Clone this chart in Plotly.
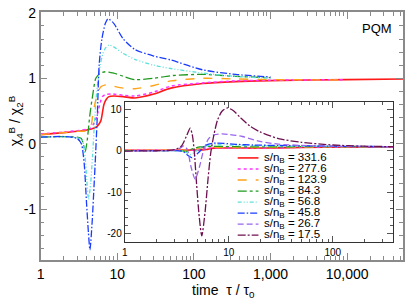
import plotly.graph_objects as go

# ---------------- data ----------------
sn_labels = ["331.6", "277.6", "123.9", "84.3", "56.8", "45.8", "26.7", "17.5"]

tau_red = [1, 2, 3, 4, 5, 5.5, 6.1, 6.7, 7.2, 7.8, 9, 12, 17, 30, 50, 130, 350, 1000, 10000, 54000]
chi_red = [0.14, 0.17, 0.19, 0.21, 0.24, 0.27, 0.35, 0.6, 0.68, 0.72, 0.73, 0.72, 0.70, 0.76, 0.85, 0.92, 0.95, 0.965, 0.98, 0.99]

tau_mag = [1, 2, 3, 4, 4.5, 5, 5.5, 6, 6.4, 7, 8.5, 12, 17, 30, 50, 130, 350, 1000, 9000]
chi_mag = [0.15, 0.18, 0.2, 0.22, 0.24, 0.32, 0.45, 0.63, 0.72, 0.75, 0.76, 0.74, 0.73, 0.79, 0.88, 0.93, 0.96, 0.97, 0.98]

tau_ora = [1, 2, 3, 4, 4.5, 4.8, 5.2, 5.6, 6.1, 7, 7.8, 9, 12, 17, 30, 50, 130, 350, 1000, 9000]
chi_ora = [0.14, 0.17, 0.19, 0.2, 0.25, 0.45, 0.65, 0.78, 0.87, 0.9, 0.9, 0.88, 0.85, 0.84, 0.89, 0.96, 1.0, 0.99, 0.98, 0.975]

tau_grn = [1, 2, 3, 3.4, 3.6, 3.82, 4.05, 4.4, 4.75, 5.25, 6, 7, 8, 9, 12, 17, 30, 50, 130, 350, 1000]
chi_grn = [0.10, 0.11, 0.1, 0.08, 0.0, -0.12, 0.05, 0.45, 0.72, 1.0, 1.08, 1.1, 1.09, 1.08, 1.03, 0.98, 1.0, 1.04, 1.06, 1.03, 1.01]

tau_cya = [1, 2, 3, 3.5, 3.8, 4.0, 4.22, 4.5, 4.75, 5.0, 5.4, 6, 6.5, 7, 7.8, 9, 12, 17, 30, 50, 130, 350, 1000]
chi_cya = [0.1, 0.11, 0.09, 0.05, -0.2, -0.55, -0.85, -0.6, -0.2, 0.25, 0.8, 1.2, 1.38, 1.46, 1.51, 1.48, 1.38, 1.29, 1.2, 1.15, 1.08, 1.03, 1.0]

tau_blu = [1, 2, 3, 3.4, 3.7, 3.97, 4.2, 4.4, 4.7, 5.0, 5.15, 5.5, 5.8, 6.3, 7, 7.6, 9, 12, 17, 30, 50, 130, 350, 1000]
chi_blu = [0.1, 0.11, 0.08, 0.0, -0.3, -0.9, -1.35, -1.62, -1.2, -0.6, -0.3, 0.45, 1.2, 1.6, 1.84, 1.91, 1.84, 1.6, 1.44, 1.34, 1.28, 1.13, 1.06, 1.02]

tau_pur = [1, 2, 3, 3.4, 3.7, 4.0, 4.3, 4.75, 5.2, 5.7, 6.4, 7.2, 8.6, 10, 13.5, 20, 30, 50, 100, 380]
chi_pur = [0.0, 0.05, 0.2, 0.7, 1.25, 0.3, -3.5, -6.8, -4.0, 0.0, 3.0, 3.9, 4.15, 4.0, 3.5, 2.3, 1.65, 1.35, 1.15, 1.02]

tau_mar = [1, 2, 3, 3.5, 3.9, 4.25, 4.45, 4.65, 4.9, 5.2, 5.5, 5.9, 6.3, 6.7, 7.2, 7.8, 8.6, 9.7, 11, 13, 16, 20, 30, 50, 100, 200, 380]
chi_mar = [0.0, 0.05, 0.3, 1.2, 3.5, 5.5, 4.0, 0.0, -8.0, -16.0, -20.5, -15.0, -7.0, -0.5, 4.0, 7.5, 9.6, 10.4, 9.8, 8.0, 6.0, 4.6, 3.0, 2.1, 1.45, 1.15, 1.05]

main_xticks = [1, 10, 100, 1000, 10000]
main_xtext = ["1", "10", "100", "1,000", "10,000"]
main_yticks = [-1, 0, 1, 2]
main_ytext = ["-1", "0", "1", "2"]
inset_xticks = [1, 10, 100]
inset_xtext = ["1", "10", "100"]
inset_yticks = [-20, -10, 0, 10]
inset_ytext = ["-20", "-10", "0", "10"]

# ---------------- styles ----------------
series = [
    (tau_red, chi_red, "#ff1a1a", "solid", 1.6),
    (tau_mag, chi_mag, "#ff33ff", "dot", 1.5),
    (tau_ora, chi_ora, "#ffa31a", "dash", 1.4),
    (tau_grn, chi_grn, "#1f9a1f", "dashdot", 1.3),
    (tau_cya, chi_cya, "#5ce0d8", "4px,2px,1px,2px,1px,2px", 1.3),
    (tau_blu, chi_blu, "#1a3cff", "7px,2px,1.5px,2px", 1.3),
    (tau_pur, chi_pur, "#9966ee", "6px,3px", 1.3),
    (tau_mar, chi_mar, "#6e1050", "8px,2px,2px,2px", 1.3),
]

W, H = 407, 302
FONT = "Liberation Sans, Arial, Helvetica, sans-serif"

fig = go.Figure()

for tx, cy, col, dash, w in series[:6]:
    fig.add_trace(go.Scatter(x=tx, y=cy, mode="lines", xaxis="x", yaxis="y",
                             line=dict(color=col, dash=dash, width=w, shape="spline", smoothing=0.7),
                             showlegend=False, hoverinfo="skip"))

for tx, cy, col, dash, w in series:
    fig.add_trace(go.Scatter(x=tx, y=cy, mode="lines", xaxis="x2", yaxis="y2",
                             line=dict(color=col, dash=dash, width=w, shape="spline", smoothing=0.7),
                             showlegend=False, hoverinfo="skip"))

main_minor_x = [m * 10 ** d for d in range(0, 5) for m in range(2, 10) if m * 10 ** d < 60000]
inset_minor_x = [m * 10 ** d for d in range(0, 3) for m in range(2, 10) if m * 10 ** d < 400]

axcol = "#8a8a8a"
fig.update_layout(
    width=W, height=H, autosize=False,
    margin=dict(l=0, r=0, t=0, b=0),
    paper_bgcolor="white", plot_bgcolor="white",
    showlegend=False,
    font=dict(family=FONT, color="black"),
    xaxis=dict(type="log", domain=[37 / W, 403 / W], range=[0, 4.73], anchor="y",
               tickmode="array", tickvals=main_xticks, ticktext=main_xtext,
               ticks="inside", ticklen=7, tickwidth=1, tickcolor=axcol,
               showline=True, linecolor=axcol, linewidth=1.5, mirror="ticks",
               minor=dict(tickmode="array", tickvals=main_minor_x, ticks="inside", ticklen=4,
                          tickcolor=axcol, showgrid=False),
               ticklabeloverflow="allow",
               showgrid=False, zeroline=False, tickfont=dict(size=14, family=FONT)),
    yaxis=dict(domain=[43 / H, 297 / H], range=[-1.776, 2.015], anchor="x",
               tickmode="array", tickvals=main_yticks, ticktext=main_ytext,
               ticks="inside", ticklen=7, tickwidth=1, tickcolor=axcol,
               showline=True, linecolor=axcol, linewidth=1.5, mirror="ticks",
               minor=dict(dtick=0.2, tick0=0, ticks="inside", ticklen=4, tickcolor=axcol, showgrid=False),
               ticklabeloverflow="allow",
               showgrid=False, zeroline=False, tickfont=dict(size=14, family=FONT)),
    xaxis2=dict(type="log", domain=[122 / W, 393 / W], range=[0, 2.58], anchor="y2",
                tickmode="array", tickvals=inset_xticks, ticktext=inset_xtext,
                ticks="inside", ticklen=6, tickwidth=1, tickcolor="#555",
                showline=True, linecolor="#333", linewidth=1.2, mirror="ticks",
                minor=dict(tickmode="array", tickvals=inset_minor_x, ticks="inside", ticklen=3,
                           tickcolor="#555", showgrid=False),
                ticklabeloverflow="allow",
                showgrid=False, zeroline=False, tickfont=dict(size=10, family=FONT)),
    yaxis2=dict(domain=[61 / H, 205 / H], range=[-22.1, 11.9], anchor="x2",
                tickmode="array", tickvals=inset_yticks, ticktext=inset_ytext,
                ticks="inside", ticklen=6, tickwidth=1, tickcolor="#555",
                showline=True, linecolor="#333", linewidth=1.2, mirror="ticks",
                minor=dict(dtick=2, tick0=0, ticks="inside", ticklen=3, tickcolor="#555", showgrid=False),
                ticklabeloverflow="allow",
                showgrid=False, zeroline=False, tickfont=dict(size=10, family=FONT)),
)

row0, step = 154.5, 11.3
for i, (lab, (tx, cy, col, dash, w)) in enumerate(zip(sn_labels, series)):
    yy = 1 - (row0 + i * step) / H
    fig.add_shape(type="line", xref="paper", yref="paper", x0=236 / W, x1=257 / W, y0=yy, y1=yy,
                  line=dict(color=col, dash=dash, width=w), layer="above")
    fig.add_annotation(xref="paper", yref="paper", x=261 / W, y=yy, xanchor="left", yanchor="middle",
                       text="s/n<sub>B</sub> = " + lab, showarrow=False,
                       font=dict(size=11.5, family=FONT, color="black"))

fig.add_annotation(xref="paper", yref="paper", x=377 / W, y=1 - 22 / H, text="PQM",
                   showarrow=False, xanchor="center", yanchor="middle",
                   font=dict(size=13, family=FONT, color="black"))
fig.add_annotation(xref="paper", yref="paper", x=222 / W, y=1 - 291 / H, text="time  τ / τ<sub>0</sub>",
                   showarrow=False, xanchor="center", yanchor="middle",
                   font=dict(size=14, family=FONT, color="black"))
fig.add_annotation(xref="paper", yref="paper", x=12 / W, y=1 - 116 / H,
                   text="χ<sub>4</sub><sup>B</sup> / χ<sub>2</sub><sup>B</sup>", textangle=-90,
                   showarrow=False, xanchor="center", yanchor="middle",
                   font=dict(size=14, family=FONT, color="black"))

fig.write_html("out.html", config={"responsive": False, "displayModeBar": False},
               post_script="document.body.style.margin='0';document.body.style.padding='0';")
